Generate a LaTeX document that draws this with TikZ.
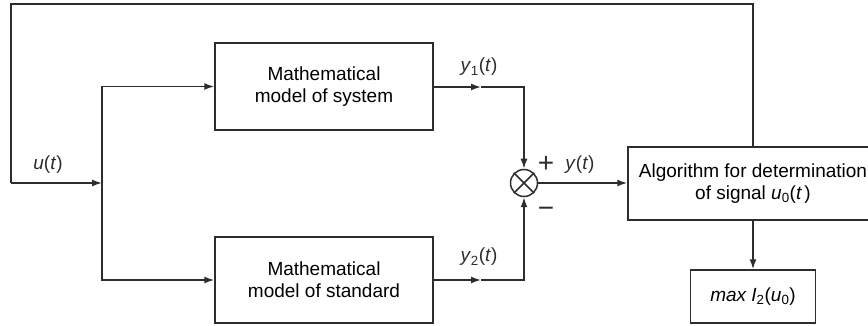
\documentclass[tikz,border=0pt]{standalone}
\usepackage{fontspec}
\setmainfont{Liberation Sans}
\usepackage{tikz}
\usetikzlibrary{arrows.meta, positioning}
\definecolor{ink}{RGB}{45,45,45}
\tikzset{
  block/.style={draw=ink, line width=1.5pt, align=center, inner sep=0pt},
  arr/.style={draw=ink, line width=1.5pt, -{Latex[length=10pt,width=7pt]}},
  wire/.style={draw=ink, line width=1.5pt},
  lbl/.style={inner sep=0pt, text=ink}
}
\newcommand{\sig}[2]{\textit{#1}\textsubscript{#2}(\textit{t})}

\begin{document}
\begin{tikzpicture}[x=1pt, y=-1pt, font=\fontsize{19}{22}\selectfont]
  \clip (0,0) rectangle (868,326);

  % blocks
  \node[block, minimum width=218pt, minimum height=87pt] (sys) at (324,86.5) {Mathematical\\model of system};
  \node[block, minimum width=218pt, minimum height=86pt] (std) at (324,280) {Mathematical\\model of standard};
  \node[draw=ink, line width=1.5pt, circle, minimum size=27pt, inner sep=0pt] (sum) at (524,183) {};
  \draw[wire] (sum.north east) -- (sum.south west) (sum.north west) -- (sum.south east);
  \node[block, minimum width=250pt, minimum height=73pt] (alg) at (753,183.5) {Algorithm for determination\\of signal \textit{u}\textsubscript{0}(\textit{t\,})};
  \node[block, minimum width=125pt, minimum height=53pt] (mx) at (753,296.5) {\textit{max I}\textsubscript{2}(\textit{u}\textsubscript{0})};

  % helper points
  \coordinate (top) at (753,4);
  \coordinate (lft) at (11,183);
  \coordinate (jn) at (102,183);
  \coordinate (m1) at (481,87);
  \coordinate (m2) at (481,280);

  % feedback and input split
  \draw[wire] (alg.north) -- (top) -| (lft);
  \draw[arr] (lft) -- (jn);
  \draw[arr] (jn) |- (sys.west);
  \draw[arr] (jn) |- (std.west);

  % model outputs to the comparator
  \draw[arr] (sys.east |- m1) -- (m1);
  \draw[arr] (m1) -| (sum.north);
  \draw[arr] (std.east |- m2) -- (m2);
  \draw[arr] (m2) -| (sum.south);

  % error signal and result
  \draw[arr] (sum.east) -- (alg.west |- sum.east);
  \draw[arr] (alg.south) -- (mx.north);

  % labels
  \node[lbl] (lu) at (48,165) {\textit{u}(\textit{t})};
  \node[lbl] (ly1) at (479,67) {\sig{y}{1}};
  \node[lbl] (ly2) at (479,257) {\sig{y}{2}};
  \node[lbl] (lp) at (546,164) {\fontsize{28}{28}\selectfont +};
  \node[lbl] (lm) at (546,212) {\fontsize{28}{28}\selectfont −};
  \node[lbl] (ly) at (580,165) {\textit{y}(\textit{t})};
\end{tikzpicture}
\end{document}
